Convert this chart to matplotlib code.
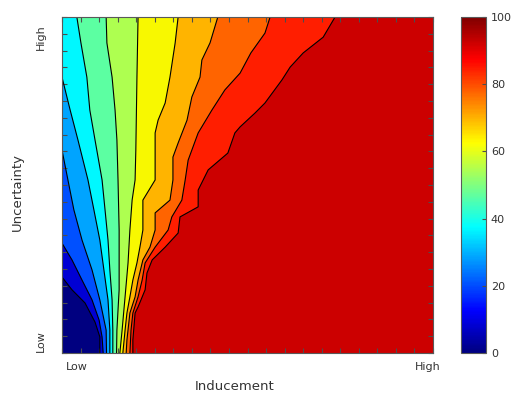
import numpy as np
import matplotlib
matplotlib.use('Agg')
import matplotlib.pyplot as plt
from matplotlib.colors import LinearSegmentedColormap, Normalize
from matplotlib.cm import ScalarMappable

# contour lines, (Inducement, Uncertainty) in 0-100 units, top to bottom
c0_x = [0, 2.7, 6.2, 8.9, 10.2, 10.2]
c0_y = [22.6, 18.8, 14.9, 9.2, 4.8, 0]
c1_x = [0, 2.7, 5.4, 8.1, 10.0, 10.8, 11.1]
c1_y = [32.7, 27.7, 21.7, 15.8, 9.8, 4.8, 0]
c2_x = [0, 1.6, 3.2, 5.4, 8.1, 10.2, 11.9, 12.0]
c2_y = [60.4, 51.5, 42.6, 33.6, 24.7, 15.8, 6.8, 0]
c3_x = [0, 2.2, 4.3, 7.0, 8.6, 10.2, 11.3, 12.4, 12.9, 12.9]
c3_y = [82.1, 72.3, 63.4, 51.5, 42.6, 33.6, 24.7, 15.8, 6.8, 0]
c4_x = [4.0, 5.1, 6.7, 7.5, 8.9, 10.8, 11.6, 12.4, 12.9, 13.5, 13.7, 13.7]
c4_y = [100, 92.3, 82.1, 72.3, 63.4, 51.5, 42.6, 33.6, 24.7, 15.8, 6.8, 0]
c5_x = [11.9, 12.1, 13.5, 14.3, 14.8, 15.1, 15.4, 15.4, 14.8, 14.7]
c5_y = [100, 92.3, 82.1, 72.3, 63.4, 51.5, 36.6, 18.8, 6.8, 0]
c6_x = [20.5, 20.2, 19.9, 19.7, 18.9, 18.3, 17.8, 17.0, 16.2, 15.6]
c6_y = [100, 82.1, 60.4, 51.5, 45.5, 36.6, 26.8, 16.7, 6.8, 0]
c7_x = [31.3, 30.5, 29.1, 27.8, 25.9, 25.1, 25.1, 21.8, 21.8, 21.0, 20.2, 19.1, 18.3, 17.5, 17.0, 16.4]
c7_y = [100, 92.3, 82.1, 74.4, 69.3, 65.5, 51.5, 45.5, 36.6, 31.5, 26.8, 21.7, 16.7, 11.9, 6.8, 0]
c8_x = [42.0, 39.9, 37.7, 37.2, 35.0, 33.7, 31.3, 29.9, 29.9, 29.1, 25.1, 25.1, 23.7, 21.8, 20.5, 19.7, 18.3, 17.5, 17.3]
c8_y = [100, 92.3, 87.2, 82.1, 76.2, 69.3, 62.5, 58.3, 51.5, 45.5, 41.7, 36.6, 31.5, 27.7, 21.7, 16.7, 11.9, 3.9, 0]
c9_x = [56.1, 54.7, 50.9, 48.0, 43.9, 40.4, 36.7, 34.0, 33.2, 32.3, 29.6, 28.6, 25.1, 22.4, 21.6, 20.5, 19.1, 18.6, 18.3]
c9_y = [100, 95.2, 89.3, 83.3, 78.3, 72.3, 65.5, 57.4, 51.5, 45.5, 40.5, 36.6, 31.5, 26.8, 21.7, 16.7, 11.9, 6.8, 0]
c10_x = [73.6, 70.4, 65.0, 61.5, 59.3, 54.7, 52.0, 48.0, 46.6, 44.7, 39.4, 36.7, 36.7, 31.8, 31.3, 27.8,
         24.3, 22.9, 22.4, 20.5, 19.7, 19.1, 19.1]
c10_y = [100, 94.0, 89.3, 85.1, 81.3, 74.4, 71.4, 67.3, 65.5, 59.5, 54.5, 48.5, 43.5, 40.5, 35.7, 31.5,
         27.7, 23.8, 18.8, 13.7, 11.9, 3.9, 0]

# fill colour of each band, low to high
band_colors = ['#000080', '#0000d4', '#0050ff', '#00a4ff', '#00f8ff', '#5cffa2',
               '#aeff50', '#f8f800', '#ffb400', '#ff6400', '#ff1e00', '#cc0000']

cbar_ticks = [0, 20, 40, 60, 80, 100]

lines = [(c0_x, c0_y), (c1_x, c1_y), (c2_x, c2_y), (c3_x, c3_y), (c4_x, c4_y), (c5_x, c5_y),
         (c6_x, c6_y), (c7_x, c7_y), (c8_x, c8_y), (c9_x, c9_y), (c10_x, c10_y)]

jet = LinearSegmentedColormap.from_list('mjet', [
    (0.0, (0, 0, 0.5)), (0.125, (0, 0, 1)), (0.375, (0, 1, 1)),
    (0.625, (1, 1, 0)), (0.875, (1, 0, 0)), (1.0, (0.5, 0, 0))])

fig = plt.figure(figsize=(5.14, 4.0), dpi=100)
ax = fig.add_axes([62 / 514, 47 / 400, 371 / 514, 336 / 400])
cax = fig.add_axes([461 / 514, 47 / 400, 25 / 514, 336 / 400])

# paint bands from low to high, each one covering everything to the right of its lower line
ax.fill([0, 100, 100, 0], [0, 0, 100, 100], color=band_colors[0], lw=0)
for i, (xs, ys) in enumerate(lines):
    px = list(xs) + [100, 100]
    py = list(ys) + [0, 100]
    if xs[0] == 0:
        px.append(0)
        py.append(100)
    ax.fill(px, py, color=band_colors[i + 1], lw=0)

for xs, ys in lines:
    ax.plot(xs, ys, color='black', lw=0.8)

ax.set_xlim(0, 100)
ax.set_ylim(0, 100)
ax.set_xticks(np.linspace(0, 100, 21))
ax.set_yticks(np.linspace(0, 100, 21))
ax.tick_params(direction='in', top=True, right=True, length=3.5, width=0.8,
               color='0.3', labelbottom=False, labelleft=False)
for s in ax.spines.values():
    s.set_color('0.35')
    s.set_linewidth(0.8)

txt = dict(color='0.2', fontsize=8, transform=ax.transAxes, ha='center', va='center')
ax.text(0.040, -0.042, 'Low', **txt)
ax.text(0.987, -0.042, 'High', **txt)
ax.text(-0.057, 0.036, 'Low', rotation=90, **txt)
ax.text(-0.057, 0.94, 'High', rotation=90, **txt)
ax.text(0.464, -0.10, 'Inducement', color='0.2', fontsize=9.5, transform=ax.transAxes,
        ha='center', va='center')
ax.text(-0.121, 0.479, 'Uncertainty', color='0.2', fontsize=9.5, rotation=90,
        transform=ax.transAxes, ha='center', va='center')

sm = ScalarMappable(norm=Normalize(0, 100), cmap=jet)
cb = fig.colorbar(sm, cax=cax, ticks=cbar_ticks)
cb.outline.set_edgecolor('0.35')
cb.outline.set_linewidth(0.8)
cax.tick_params(direction='in', length=3, color='0.3', labelsize=8, labelcolor='0.2')

fig.savefig('out.png', dpi=100)
